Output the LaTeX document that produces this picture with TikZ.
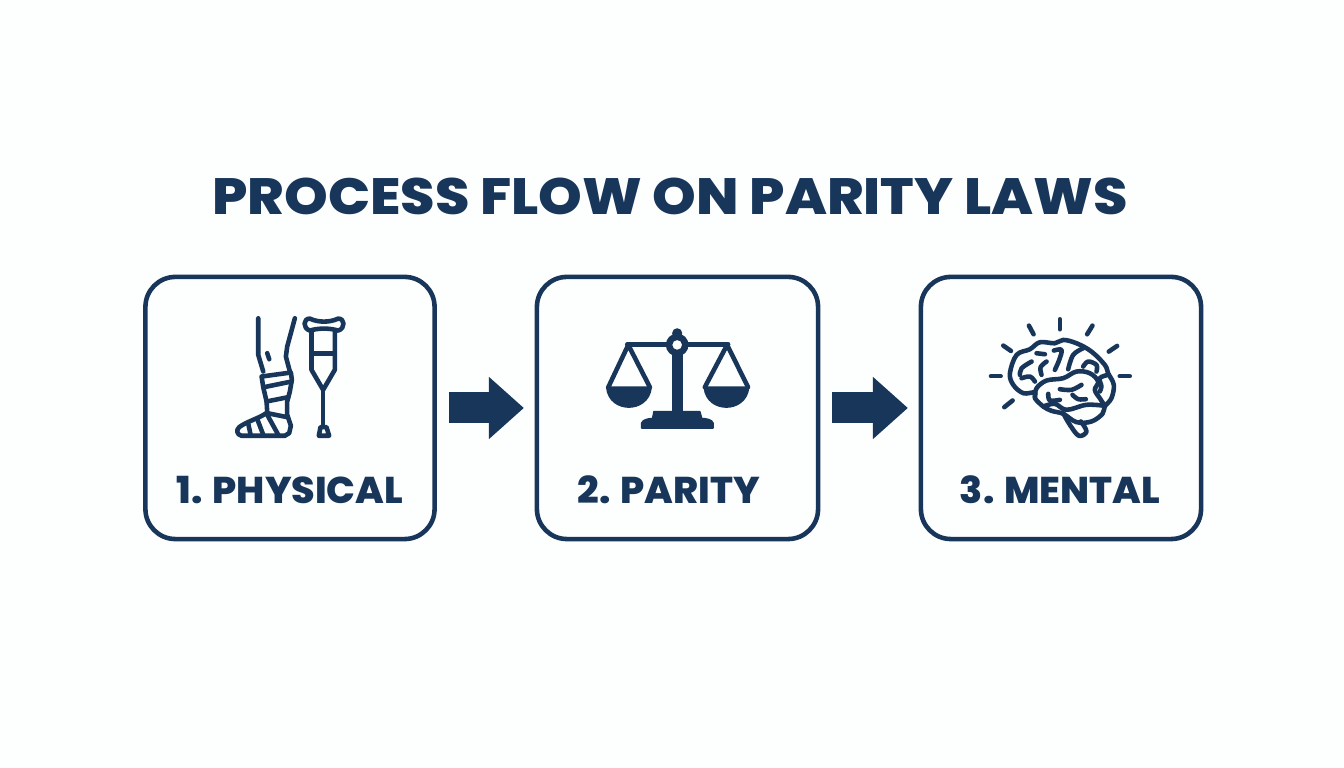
\documentclass[tikz,border=0pt]{standalone}
\usepackage{fontspec}
\setmainfont{Poppins}[BoldFont={Poppins ExtraBold}, FakeStretch=1.02]
\newfontfamily\titlefont{Poppins}[BoldFont={Poppins ExtraBold}, FakeStretch=1.09]
\usetikzlibrary{arrows.meta}
\definecolor{navy}{HTML}{17365A}
\definecolor{paper}{HTML}{FDFEFE}
\tikzset{
  flowbox/.style={draw=navy, line width=1.3pt, rounded corners=0.3cm, minimum width=2.89cm, minimum height=2.62cm, outer sep=0pt, inner sep=0pt},
  flowlabel/.style={text=navy, font=\fontsize{10.6}{12}\selectfont\bfseries, inner sep=0pt},
  flowtitle/.style={text=navy, font=\fontsize{14.5}{17}\titlefont\bfseries, inner sep=0pt},
  flowarrow/.style={draw=navy, line width=0.31cm, -{Triangle[length=0.35cm,width=0.6cm]}, shorten <=0.14cm, shorten >=0.13cm},
  iconline/.style={draw=navy, line width=1.3pt, line cap=round, line join=round},
  iconfill/.style={fill=navy, draw=navy, line width=0.4pt, line join=round}
}
\begin{document}
\begin{tikzpicture}[x=0.01cm, y=-0.01cm]

\useasboundingbox[fill=paper] (0,0) rectangle (1344,768);

\node[flowtitle] (title) at (670,196) {PROCESS FLOW ON PARITY LAWS};

\node[flowbox] (physical) at (290,408) {};
\node[flowbox, minimum width=2.81cm] (parity) at (677.5,408) {};
\node[flowbox, minimum width=2.8cm] (mental) at (1061,408) {};

\node[flowlabel] (physicallabel) at (290,490) {1. PHYSICAL};
\node[flowlabel] (paritylabel) at (669,490) {2. PARITY};
\node[flowlabel] (mentallabel) at (1060,490) {3. MENTAL};

\draw[flowarrow] (physical) -- (parity);
\draw[flowarrow] (parity) -- (mental);

\begin{scope}[shift={(210,300)}, x=0.003333cm, y=-0.003333cm]
\draw[iconline] (145,55) -- (145,165) -- (160,215);
\draw[iconline] (255,55) -- (232,140) -- (228,170) -- (240,215);
\draw[iconline] (172,160) -- (178,178);
\draw[iconline] (155,230) -- (243,218) -- (246,240) -- (240,275) -- (232,305) -- (232,345) -- (243,378) -- (238,400) -- (225,408) -- (95,408) .. controls (80,405) and (78,390) .. (88,382) .. controls (110,365) and (150,355) .. (172,338) -- (170,305) -- (160,262) -- cycle;
\draw[iconline] (162,262) -- (245,245);
\draw[iconline] (170,305) -- (235,292);
\draw[iconline] (172,340) -- (232,352);
\draw[iconline] (115,372) -- (122,405);
\draw[iconline] (142,358) -- (160,405);
\draw[iconline] (172,345) -- (205,405);
\draw[iconline] (300,56) .. controls (325,68) and (360,68) .. (385,56) .. controls (405,55) and (408,85) .. (385,92) .. controls (360,84) and (325,84) .. (300,92) .. controls (278,85) and (280,55) .. (300,56) -- cycle;
\draw[iconline] (305,92) -- (305,210) -- (340,270) -- (375,210) -- (375,92);
\draw[iconline] (305,160) -- (375,160);
\draw[iconline] (340,270) -- (340,380);
\draw[iconline] (332,382) -- (350,382) -- (358,408) -- (327,408) -- cycle;
\end{scope}

\begin{scope}[shift={(590,310)}, x=0.003333cm, y=-0.003333cm]
\draw[iconline] (112,103) -- (235,103);
\draw[iconline] (290,103) -- (415,103);
\draw[iconline] (55,232) -- (115,105) -- (180,232);
\draw[iconline] (345,232) -- (412,105) -- (475,232);
\fill[iconfill] (50,232) -- (184,232) .. controls (180,275) and (145,292) .. (117,292) .. controls (88,292) and (54,275) .. (50,232) -- cycle;
\fill[iconfill] (343,232) -- (477,232) .. controls (473,275) and (438,292) .. (410,292) .. controls (381,292) and (347,275) .. (343,232) -- cycle;
\fill[iconfill] (249,130) rectangle (276,310);
\fill[iconfill] (262,70) circle (13);
\fill[iconfill, even odd rule] (262,105) circle (32) (262,105) circle (17);
\fill[iconfill] (155,355) -- (155,340) .. controls (158,330) and (175,326) .. (188,326) -- (192,305) -- (330,305) -- (336,326) .. controls (350,326) and (368,330) .. (370,340) -- (370,355) -- cycle;
\end{scope}

\begin{scope}[shift={(980,310)}, x=0.003333cm, y=-0.003333cm]
\draw[iconline] (240,28) -- (240,58);
\draw[iconline] (147,47) -- (161,73);
\draw[iconline] (70,107) -- (93,123);
\draw[iconline] (33,199) -- (62,199);
\draw[iconline] (73,292) -- (98,272);
\draw[iconline] (338,47) -- (322,73);
\draw[iconline] (412,108) -- (387,125);
\draw[iconline] (420,199) -- (450,199);
\draw[iconline] plot[smooth cycle, tension=0.6] coordinates {(90,190) (110,135) (150,118) (180,97) (225,100) (250,90) (290,100) (335,125) (375,165) (385,190) (402,225) (395,265) (375,290) (368,312) (335,335) (290,337) (250,312) (215,303) (190,290) (165,265) (165,248) (130,250) (100,225)};
\draw[iconline] plot[smooth, tension=0.6] coordinates {(165,262) (170,235) (200,212) (250,205) (290,185) (330,190) (355,215) (345,240) (360,265) (375,288)};
\draw[iconline] plot[smooth, tension=0.6] coordinates {(190,290) (225,282) (260,300) (320,285) (375,288)};
\draw[iconline] plot[smooth, tension=0.6] coordinates {(250,310) (270,345) (297,378) (320,365) (303,335)};
\draw[iconline] plot[smooth, tension=0.6] coordinates {(120,195) (125,175) (155,155)};
\draw[iconline] plot[smooth, tension=0.6] coordinates {(125,205) (150,200) (165,215)};
\draw[iconline] (170,130) -- (195,133);
\draw[iconline] plot[smooth, tension=0.6] coordinates {(200,155) (182,172) (185,195)};
\draw[iconline] plot[smooth, tension=0.6] coordinates {(222,122) (245,120) (238,150) (225,180)};
\draw[iconline] plot[smooth, tension=0.6] coordinates {(265,178) (280,135) (310,115)};
\draw[iconline] plot[smooth, tension=0.6] coordinates {(310,170) (325,155) (350,165) (350,185)};
\draw[iconline] plot[smooth, tension=0.6] coordinates {(385,195) (360,205) (365,230) (360,245)};
\draw[iconline] plot[smooth, tension=0.6] coordinates {(240,238) (275,240) (305,225)};
\draw[iconline] plot[smooth, tension=0.6] coordinates {(278,255) (295,268) (318,268)};
\draw[iconline] plot[smooth, tension=0.6] coordinates {(205,252) (210,272) (240,270)};
\end{scope}

\end{tikzpicture}
\end{document}
